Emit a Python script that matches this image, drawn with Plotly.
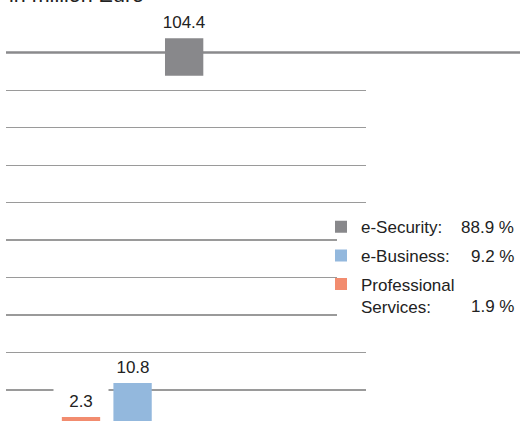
import plotly.graph_objects as go

# ---- data ----
categories = ["Professional Services", "e-Business", "e-Security"]
legend_names = ["Professional<br>Services:", "e-Business:", "e-Security:"]
values = [2.3, 10.8, 104.4]
shares = [1.9, 9.2, 88.9]
colors = ["#f28c6f", "#93b8dd", "#88888b"]
unit_label = "in million Euro"
break_value = 60  # values above this are drawn on the upper (broken) axis

W, H = 520, 421
FONT = "Liberation Sans, Arial, sans-serif"
TXT = "#222222"

fig = go.Figure()

# legend order: e-Security, e-Business, Professional Services
for i in [2, 1, 0]:
    upper = values[i] > break_value
    fig.add_trace(go.Bar(
        x=[categories[i]], y=[values[i]],
        name=legend_names[i], legendgroup=categories[i],
        marker=dict(color=colors[i], line=dict(width=0)),
        yaxis="y2" if upper else "y",
        xaxis="x",
        hoverinfo="skip",
    ))
    fig.add_annotation(
        x=categories[i], y=values[i], xref="x", yref="y2" if upper else "y",
        text=f"{values[i]:.1f}", showarrow=False,
        yanchor="bottom", xanchor="center", yshift=2,
        font=dict(family=FONT, size=17, color=TXT),
        bgcolor="white", borderpad=3, width=48,
    )

# percentage column next to legend
pct_y = {2: 227.3, 1: 256.7, 0: 306.0}
for i in [2, 1, 0]:
    fig.add_annotation(
        x=516 / W, y=1 - pct_y[i] / H, xref="paper", yref="paper",
        text=f"{shares[i]:.1f} %", showarrow=False,
        xanchor="right", yanchor="middle",
        font=dict(family=FONT, size=17, color=TXT),
    )

# unit label (partly cut at the top)
fig.add_annotation(
    x=8 / W, y=1 - 8 / H, xref="paper", yref="paper",
    text=unit_label, showarrow=False, xanchor="left", yanchor="bottom",
    font=dict(family=FONT, size=21.5, color=TXT), borderpad=0,
)

# axis break line
fig.add_shape(type="line", xref="paper", yref="paper",
              x0=6 / W, x1=1.0, y0=1 - 52.5 / H, y1=1 - 52.5 / H,
              line=dict(color="#8a8a8c", width=2.6), layer="below")
# white backing behind legend
fig.add_shape(type="rect", xref="paper", yref="paper",
              x0=337 / W, x1=370 / W, y0=1 - 322 / H, y1=1 - 212 / H,
              fillcolor="white", line=dict(width=0), layer="above")

px_per_cat = 51.575
c0 = 81.0
x_left, x_right = 6.0, 365.7
xr = [(x_left - c0) / px_per_cat, (x_right - c0) / px_per_cat]

s = 4.0          # px per unit
base = 426.2     # pixel of zero (below the visible area)
low_top_px = 80.0
yr_low = [(base - H) / s, (base - low_top_px) / s]

up_bot_px, up_top_px = 75.7, 28.0
bar_top_px = 38.3
yr_up = [values[2] - (up_bot_px - bar_top_px) / s, values[2] + (bar_top_px - up_top_px) / s]

fig.update_layout(
    width=W, height=H,
    margin=dict(l=0, r=0, t=0, b=0),
    paper_bgcolor="white", plot_bgcolor="rgba(0,0,0,0)",
    barmode="overlay", bargap=0.257,
    showlegend=True,
    legend=dict(
        x=321 / W, y=1 - 209.3 / H, xanchor="left", yanchor="top",
        bgcolor="rgba(0,0,0,0)", borderwidth=0, valign="top",
        traceorder="grouped", tracegroupgap=3.5,
        font=dict(family=FONT, size=17, color=TXT),
    ),
    xaxis=dict(domain=[x_left / W, x_right / W], range=xr, type="category",
               categoryorder="array", categoryarray=categories,
               showgrid=False, showticklabels=False, zeroline=False,
               showline=False, ticks=""),
    yaxis=dict(domain=[0, 1 - low_top_px / H], range=yr_low,
               tick0=(base - 390.0) / s, dtick=37.46 / s,
               showgrid=True, gridcolor="#9a9a9a", gridwidth=1.4,
               showticklabels=False, zeroline=False, showline=False, ticks=""),
    yaxis2=dict(domain=[1 - up_bot_px / H, 1 - up_top_px / H], range=yr_up,
                anchor="x", showgrid=False, showticklabels=False,
                zeroline=False, showline=False, ticks=""),
    font=dict(family=FONT, color=TXT),
)

fig.write_html(
    "out.html",
    config={"displayModeBar": False, "staticPlot": True},
    post_script="document.body.style.margin='0';document.body.style.padding='0';",
)
